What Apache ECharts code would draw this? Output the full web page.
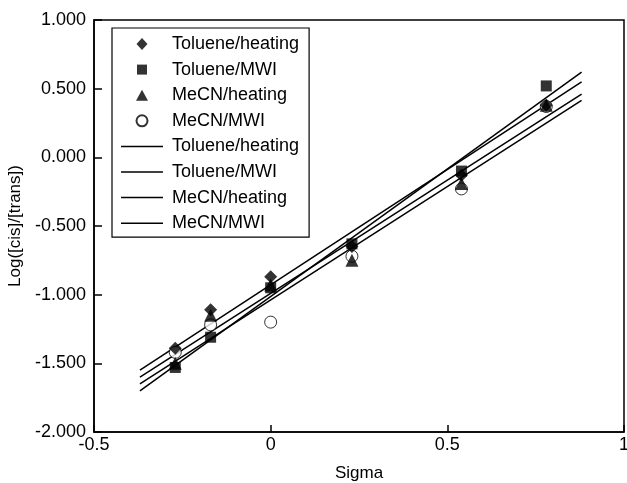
<!DOCTYPE html>
<html><head><meta charset="utf-8">
<script src="https://cdn.jsdelivr.net/npm/echarts@6/dist/echarts.min.js"></script>
<style>html,body{margin:0;padding:0;background:#fff}#c{width:627px;height:483px}</style>
</head><body><div id="c"></div>
<script>
// Data
const sigma = [-0.27, -0.17, 0, 0.23, 0.54, 0.78];
const tolHeat = [-1.39, -1.11, -0.87, -0.65, -0.13, 0.38];
const tolMWI = [-1.53, -1.31, -0.95, -0.63, -0.10, 0.52];
const mecnHeat = [-1.50, -1.15, -0.93, -0.75, -0.19, 0.38];
const mecnMWI = [-1.42, -1.22, -1.20, -0.72, -0.23, 0.37];
// Fitted lines (end points)
const fitX = [-0.37, 0.88];
const tolHeatFit = [-1.55, 0.55];
const tolMWIFit = [-1.70, 0.62];
const mecnHeatFit = [-1.60, 0.46];
const mecnMWIFit = [-1.65, 0.415];
const names = ['Toluene/heating', 'Toluene/MWI', 'MeCN/heating', 'MeCN/MWI'];
const xTicks = [-0.5, 0, 0.5, 1];

const FONT = "'Liberation Sans', Arial, sans-serif";
const pts = ys => sigma.map((s, i) => [s, ys[i]]);
const line = ys => fitX.map((s, i) => [s, ys[i]]);
const FIT = ' fit';
// legend icons: a 42x12 box (the two leading moves fix the box), shape centred inside
const BOX = 'path://M0,0M42,12';
const LINE_ICON = 'path://M0,0L42,0L42,1.5L0,1.5Z';
const ICONS = [
  BOX + 'M21,0L26.5,6L21,12L15.5,6Z',
  BOX + 'M16,1L26,1L26,11L16,11Z',
  BOX + 'M21,0.5L27,11.5L15,11.5Z',
  BOX + 'M15.5,6A5.5,5.5 0 1,1 26.5,6A5.5,5.5 0 1,1 15.5,6Z'
];

const scatter = (name, ys, symbol, z, circle) => ({
  name, type: 'scatter', data: pts(ys), symbol, symbolSize: symbol === 'circle' ? 12 : (symbol === 'rect' ? 11 : 13), z,
  itemStyle: circle ? { color: '#fff', borderColor: '#000', borderWidth: 1 } : { color: '#000' },
  emphasis: { disabled: true }
});
const fit = (name, ys) => ({
  name: name + FIT, type: 'line', data: line(ys), symbol: 'none', z: 1,
  lineStyle: { color: '#000', width: 1.5 }, itemStyle: { color: '#000' }
});

const chart = echarts.init(document.getElementById('c'));
chart.setOption({
  animation: false,
  backgroundColor: '#fff',
  textStyle: { fontFamily: FONT },
  grid: { left: 94, right: 3, top: 20, bottom: 51, show: true, borderColor: '#000', borderWidth: 1.5, outerBoundsMode: 'none', containLabel: false },
  xAxis: {
    type: 'value', min: -0.5, max: 1, interval: 0.5,
    name: 'Sigma', nameLocation: 'middle', nameGap: 33,
    nameTextStyle: { fontSize: 17, color: '#000', fontFamily: FONT },
    axisLine: { onZero: false, lineStyle: { color: '#000', width: 1.5 } },
    axisTick: { inside: true, length: 7, lineStyle: { color: '#000', width: 1.5 } },
    axisLabel: { fontSize: 18, color: '#000', margin: 4, fontFamily: FONT, formatter: v => String(xTicks.find(t => Math.abs(t - v) < 1e-9) ?? v) },
    splitLine: { show: false }
  },
  yAxis: {
    type: 'value', min: -2, max: 1, interval: 0.5,
    name: 'Log([cis]/[trans])', nameLocation: 'middle', nameGap: 68,
    nameTextStyle: { fontSize: 17, color: '#000', fontFamily: FONT },
    axisLine: { onZero: false, lineStyle: { color: '#000', width: 1.5 } },
    axisTick: { inside: true, length: 8, lineStyle: { color: '#000', width: 1.5 } },
    axisLabel: { fontSize: 18, color: '#000', margin: 8, fontFamily: FONT, formatter: v => v.toFixed(3) },
    splitLine: { show: false }
  },
  legend: {
    orient: 'vertical', left: 112, top: 28,
    backgroundColor: '#fff', borderColor: '#000', borderWidth: 1.2,
    padding: [7, 10, 5, 8],
    itemWidth: 42, itemHeight: 12, itemGap: 7.6,
    selectedMode: false,
    textStyle: { fontSize: 18, color: '#000', fontFamily: FONT, lineHeight: 18, padding: [0, 0, 0, 4] },
    formatter: n => n.replace(FIT, ''),
    data: names.map((n, i) => ({ name: n, icon: ICONS[i] }))
      .concat(names.map(n => ({ name: n + FIT, icon: LINE_ICON })))
  },
  series: [
    scatter(names[0], tolHeat, 'diamond', 4),
    scatter(names[1], tolMWI, 'rect', 5),
    scatter(names[2], mecnHeat, 'triangle', 4),
    scatter(names[3], mecnMWI, 'circle', 3, true),
    fit(names[0], tolHeatFit),
    fit(names[1], tolMWIFit),
    fit(names[2], mecnHeatFit),
    fit(names[3], mecnMWIFit)
  ]
});
</script></body></html>
